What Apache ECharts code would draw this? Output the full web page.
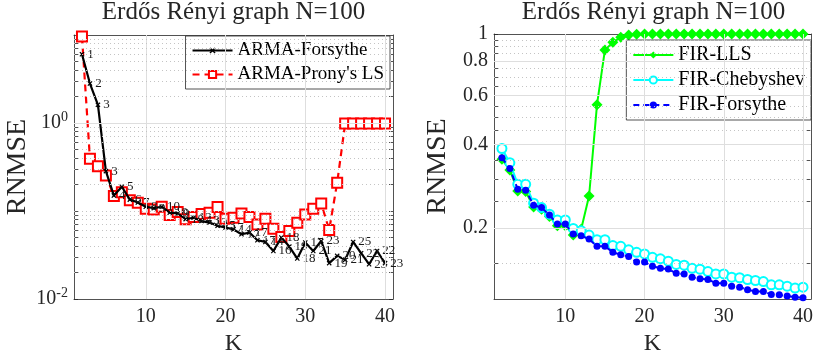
<!DOCTYPE html>
<html>
<head>
<meta charset="utf-8">
<script src="https://cdn.jsdelivr.net/npm/echarts@6/dist/echarts.min.js"></script>
<style>
  html, body { margin: 0; padding: 0; background: #ffffff; }
  #chart { width: 816px; height: 361px; }
</style>
</head>
<body>
<div id="chart"></div>
<script>
// Filter order K on both panels
const K = [2, 3, 4, 5, 6, 7, 8, 9, 10, 11, 12, 13, 14, 15, 16, 17, 18, 19, 20, 21,
           22, 23, 24, 25, 26, 27, 28, 29, 30, 31, 32, 33, 34, 35, 36, 37, 38, 39, 40];

// Left panel: ARMA designs
const armaForsythe = [6.05, 2.81, 1.61, 0.284, 0.150, 0.189, 0.135, 0.125, 0.112, 0.108,
                      0.112, 0.096, 0.094, 0.081, 0.084, 0.077, 0.074, 0.068, 0.065, 0.062,
                      0.0545, 0.057, 0.0466, 0.0446, 0.0352, 0.050, 0.0395, 0.0289, 0.0439, 0.0352,
                      0.0457, 0.0256, 0.031, 0.0279, 0.0446, 0.0332, 0.0249, 0.0352, 0.0256];
// denominator order reported next to each ARMA-Forsythe point
const armaOrder = [1, 2, 3, 3, 4, 5, 6, 7, 8, 9,
                   10, 10, 9, 10, 12, 13, 13, 15, 17, 14,
                   17, 17, 17, 14, 16, 18, 19, 18, 17, 21,
                   23, 19, 20, 21, 25, 22, 23, 22, 23];
const armaProny = [9.6, 0.392, 0.323, 0.254, 0.148, 0.164, 0.133, 0.1245, 0.1064, 0.1045,
                   0.112, 0.090, 0.0974, 0.0805, 0.0855, 0.0924, 0.0959, 0.111, 0.082, 0.084,
                   0.094, 0.0855, 0.0706, 0.082, 0.063, 0.0507, 0.0593, 0.0738, 0.0916, 0.1064,
                   0.122, 0.061, 0.21, 0.985, 0.985, 0.985, 0.985, 0.985, 0.985];

// Right panel: FIR designs
const firLLS = [0.354, 0.324, 0.272, 0.271, 0.238, 0.234, 0.220, 0.204, 0.204, 0.189,
                0.198, 0.261, 0.5565, 0.876, 0.933, 0.973, 0.992, 0.997, 1.0, 1.0,
                1.0, 1.0, 1.0, 1.0, 1.0, 1.0, 1.0, 1.0, 1.0, 1.0,
                1.0, 1.0, 1.0, 1.0, 1.0, 1.0, 1.0, 1.0, 1.0];
const firCheb = [0.387, 0.344, 0.2875, 0.2875, 0.246, 0.237, 0.2245, 0.2138, 0.214, 0.1995,
                 0.1956, 0.1888, 0.1817, 0.1817, 0.173, 0.172, 0.167, 0.1636, 0.1614, 0.157,
                 0.155, 0.152, 0.148, 0.147, 0.1433, 0.1423, 0.1395, 0.1368, 0.1368, 0.1331,
                 0.1325, 0.1306, 0.1295, 0.1284, 0.125, 0.125, 0.1236, 0.1216, 0.1225];
const firForsythe = [0.3585, 0.3275, 0.276, 0.274, 0.2417, 0.237, 0.2228, 0.2067, 0.2067, 0.1904,
                     0.1877, 0.1826, 0.172, 0.172, 0.1636, 0.1605, 0.158, 0.151, 0.151, 0.1458,
                     0.1433, 0.1425, 0.1374, 0.1368, 0.1331, 0.1313, 0.1306, 0.1267, 0.1267, 0.1236,
                     0.1225, 0.120, 0.1183, 0.1183, 0.1154, 0.115, 0.1138, 0.1128, 0.1122];

// Axis ticks
const xTicks = [10, 20, 30, 40];
const leftMajor = [0.01, 1];
const leftMinor = [0.02, 0.03, 0.04, 0.05, 0.06, 0.07, 0.08, 0.09, 0.1,
                   0.2, 0.3, 0.4, 0.5, 0.6, 0.7, 0.8, 0.9,
                   2, 3, 4, 5, 6, 7, 8, 9];
const rightMajor = [0.2, 0.4, 0.6, 0.8, 1];
const rightMinor = [0.15, 0.25, 0.3, 0.35, 0.45, 0.5, 0.55, 0.65, 0.7, 0.75, 0.85, 0.9, 0.95];

const titleText = 'Erdős Rényi graph N=100';
const FONT = '"Liberation Serif", "Times New Roman", serif';
const AX = '#262626';
const TICK_SIZE = 20;

const pairs = vals => vals.map((v, i) => [K[i], v]);

function xAxisPair(grid) {
  const base = {
    type: 'value', gridIndex: grid, min: 1, max: 41,
    axisLine: { show: true, onZero: false, lineStyle: { color: AX, width: 0.8 } },
    axisTick: { show: true, inside: true, length: 5, customValues: xTicks, lineStyle: { color: AX, width: 0.8 } },
    splitLine: { show: false }
  };
  return [
    Object.assign({}, base, {
      position: 'bottom',
      axisLabel: { show: true, customValues: xTicks, margin: 8, fontFamily: FONT, fontSize: TICK_SIZE, color: AX },
      name: 'K', nameLocation: 'middle', nameGap: 21,
      nameTextStyle: { fontFamily: FONT, fontSize: 24, color: AX, verticalAlign: 'top' }
    }),
    Object.assign({}, base, { position: 'top', axisLabel: { show: false } })
  ];
}

function yAxisPair(grid, min, max, major, minor, labelCfg) {
  const base = {
    type: 'log', logBase: 10, gridIndex: grid, min: min, max: max,
    axisLine: { show: true, onZero: false, lineStyle: { color: AX, width: 0.8 } },
    axisTick: { show: true, inside: true, length: 4, customValues: major.concat(minor).filter(v => v >= min && v <= max),
                lineStyle: { color: AX, width: 0.8 } },
    splitLine: { show: false },
    minorTick: { show: false }
  };
  return [
    Object.assign({}, base, {
      position: 'left',
      axisLabel: Object.assign({ show: true, customValues: major, fontFamily: FONT, fontSize: TICK_SIZE, color: AX }, labelCfg),
      name: 'RNMSE', nameLocation: 'middle', nameGap: 42, nameRotate: 90,
      nameTextStyle: { fontFamily: FONT, fontSize: 28, color: AX }
    }),
    Object.assign({}, base, { position: 'right', axisLabel: { show: false } })
  ];
}

// Background grid drawn as mark lines on an empty series under the data
function gridSeries(xi, yi, major, minor, min, max) {
  const lines = [];
  xTicks.forEach(v => lines.push({ xAxis: v, lineStyle: { color: '#dedede', width: 1, type: 'solid' } }));
  major.filter(v => v > min && v < max).forEach(v =>
    lines.push({ yAxis: v, lineStyle: { color: '#dedede', width: 1, type: 'solid' } }));
  minor.filter(v => v > min && v < max).forEach(v =>
    lines.push({ yAxis: v, lineStyle: { color: '#c4c4c4', width: 1, type: [1, 3] } }));
  return {
    type: 'line', xAxisIndex: xi, yAxisIndex: yi, data: [], z: 1, silent: true,
    markLine: { silent: true, symbol: ['none', 'none'], label: { show: false }, animation: false, data: lines }
  };
}

const legendBase = {
  orient: 'vertical', itemWidth: 40, itemHeight: 9, itemGap: 5, padding: [5, 6, 5, 6],
  backgroundColor: '#ffffff', borderColor: AX, borderWidth: 0.8,
  textStyle: { fontFamily: FONT, fontSize: 19, color: '#000' }
};

const chart = echarts.init(document.getElementById('chart'), null, { renderer: 'canvas' });

chart.setOption({
  animation: false,
  backgroundColor: '#ffffff',
  title: [
    { text: titleText, left: 233.5, top: 0, padding: 0, textAlign: 'center',
      textStyle: { fontFamily: FONT, fontSize: 25, fontWeight: 'normal', color: AX } },
    { text: titleText, left: 653.5, top: 0, padding: 0, textAlign: 'center',
      textStyle: { fontFamily: FONT, fontSize: 25, fontWeight: 'normal', color: AX } }
  ],
  grid: [
    { left: 74, top: 35, width: 319, height: 265 },
    { left: 494, top: 34, width: 319, height: 266 }
  ],
  legend: [
    Object.assign({}, legendBase, { data: ['ARMA-Forsythe', "ARMA-Prony's LS"], right: 426, top: 36 }),
    Object.assign({}, legendBase, { data: ['FIR-LLS', 'FIR-Chebyshev', 'FIR-Forsythe'], right: 5, top: 40,
                                    textStyle: { fontFamily: FONT, fontSize: 20, color: '#000' } })
  ],
  xAxis: xAxisPair(0).concat(xAxisPair(1)),
  yAxis: yAxisPair(0, 0.01, 10, leftMajor, leftMinor, {
      margin: 6,
      formatter: v => '{b|10}{s|' + Math.round(Math.log10(v)) + '}',
      rich: { b: { fontFamily: FONT, fontSize: TICK_SIZE, color: AX },
              s: { fontFamily: FONT, fontSize: 14, color: AX, padding: [0, 0, 11, 0] } }
    }).concat(yAxisPair(1, 0.111, 1, rightMajor, rightMinor, {
      margin: 6,
      formatter: v => String(Math.round(v * 10) / 10)
    })),
  series: [
    gridSeries(0, 0, leftMajor, leftMinor, 0.01, 10),
    gridSeries(2, 2, rightMajor, rightMinor, 0.111, 1),
    {
      name: 'ARMA-Forsythe', type: 'line', xAxisIndex: 0, yAxisIndex: 0, z: 4,
      data: pairs(armaForsythe),
      symbol: 'path://M4,0L6,0L6,4L10,4L10,6L6,6L6,10L4,10L4,6L0,6L0,4L4,4Z',
      symbolSize: 6, symbolRotate: 45,
      lineStyle: { color: '#000000', width: 2.2 },
      itemStyle: { color: '#000000' },
      label: { show: true, position: 'right', distance: 1, offset: [0, -2],
               formatter: p => String(armaOrder[p.dataIndex]),
               fontFamily: FONT, fontSize: 13, color: '#1a1a1a' },
      labelLayout: { hideOverlap: false }
    },
    {
      name: "ARMA-Prony's LS", type: 'line', xAxisIndex: 0, yAxisIndex: 0, z: 3,
      data: pairs(armaProny),
      symbol: 'emptyRect', symbolSize: 10,
      lineStyle: { color: '#ff0000', width: 2.2, type: [7, 5] },
      itemStyle: { color: '#ff0000', borderColor: '#ff0000', borderWidth: 3 }
    },
    {
      name: 'FIR-LLS', type: 'line', xAxisIndex: 2, yAxisIndex: 2, z: 3,
      data: pairs(firLLS),
      symbol: 'diamond', symbolSize: 11,
      lineStyle: { color: '#00ff00', width: 2 },
      itemStyle: { color: '#00ff00' }
    },
    {
      name: 'FIR-Chebyshev', type: 'line', xAxisIndex: 2, yAxisIndex: 2, z: 4,
      data: pairs(firCheb),
      symbol: 'emptyCircle', symbolSize: 9,
      lineStyle: { color: '#00ffff', width: 2 },
      itemStyle: { color: '#00ffff', borderColor: '#00ffff', borderWidth: 2 }
    },
    {
      name: 'FIR-Forsythe', type: 'line', xAxisIndex: 2, yAxisIndex: 2, z: 5,
      data: pairs(firForsythe),
      symbol: 'circle', symbolSize: 7,
      lineStyle: { color: '#0000ff', width: 2, type: [6, 4] },
      itemStyle: { color: '#0000ff' }
    }
  ]
});
</script>
</body>
</html>
